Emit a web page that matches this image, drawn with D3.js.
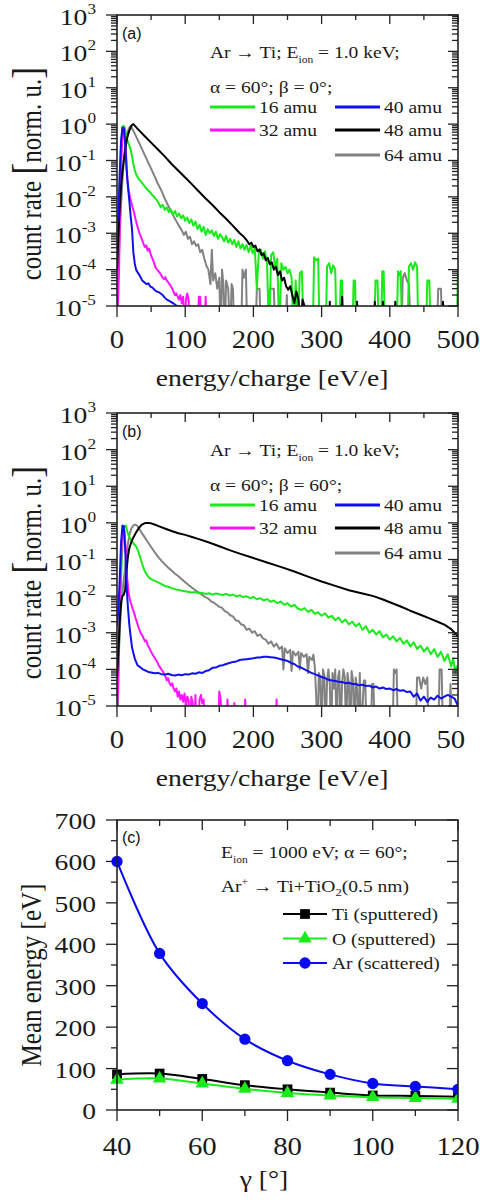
<!DOCTYPE html>
<html>
<head>
<meta charset="utf-8">
<script src="https://cdn.jsdelivr.net/npm/d3@7"></script>
<style>
  body { margin: 0; background: #fff; }
</style>
</head>
<body>
<div id="chart"></div>
<script>
// ---- data: [energy eV/e, normalised count rate], 0 = no counts ----
const specA16 = [[0,1e-4],[2,3e-3],[4,0.04],[6,0.3],[8,0.85],[10,0.9],[12,0.7],[14,0.45],[16,0.32],[18,0.26],[20,0.2],[22,0.13],[24,0.08],[26,0.055],[28,0.042],[31,0.033],[34,0.028],[37,0.024],[40,0.02],[43,0.017],[46,0.015],[49,0.013],[52,0.011],[55,0.0098],[58,0.0082],[61,0.0068],[64,0.0052],[67,0.0061],[70,0.0044],[73,0.0051],[76,0.0038],[79,0.0045],[82,0.0033],[85,0.0041],[88,0.0029],[91,0.0035],[94,0.0026],[97,0.0031],[100,0.0022],[103,0.0027],[106,0.0019],[109,0.0024],[112,0.0016],[115,0.0021],[118,0.0013],[121,0.0017],[124,0.0011],[127,0.0015],[130,0.0009],[133,0.0013],[136,0.001],[139,0.0012],[142,0.00085],[145,0.0011],[148,0.0007],[151,0.00095],[154,0.0008],[157,0.0006],[160,0.00085],[163,0.00055],[166,0.0007],[169,0.0005],[172,0.00065],[175,0.00042],[178,0.0006],[181,0.00038],[184,0.0005],[187,0.00035],[190,0.00048],[193,0.0003],[196,0.00045],[199,0.00028],[202,0.0004],[205,0.00003],[208,0.0003],[211,0.00035],[214,0.0002],[217,0.00032],[220,0.00015],[223,0],[226,0.00025],[229,0.0003],[232,0.00012],[235,0.0002],[238,0],[241,0.00015],[244,0.0001],[247,0.00012],[250,0.00008],[253,0.0001],[256,0.00006],[259,0],[262,0.00005],[265,0],[268,0.00008],[271,0.00009],[274,0],[287,0],[289,0.00022],[292,0.00018],[295,0.0002],[297,0],[306,0],[308,0.00012],[311,0.00015],[314,0.00008],[317,0.00013],[320,0.0001],[322,0],[326,0],[328,0.00005],[330,0.00005],[332,0],[345,0],[347,0.00005],[349,0.00005],[351,0],[377,0],[379,0.00005],[382,0.00005],[384,0],[387,0],[389,0.00009],[391,0.00009],[393,0],[410,0],[412,0.00009],[414,0.00007],[416,0.00009],[418,0],[426,0],[428,0.00012],[431,0.00015],[434,0.0001],[437,0.00016],[440,0.00012],[442,0],[453,0],[455,0.00005],[458,0.00005],[460,0],[498,0],[500,0.0001]];
const specA32 = [[0,0],[3,1e-4],[5,0.01],[7,0.2],[9,0.7],[11,0.8],[13,0.2],[15,0.03],[17,0.015],[19,0.01],[21,0.007],[23,0.005],[25,0.0037],[27,0.0025],[29,0.0018],[31,0.0013],[33,0.001],[35,0.0008],[37,0.00065],[39,0.0005],[41,0.00042],[43,0.00046],[45,0.00033],[47,0.00038],[49,0.00028],[51,0.00022],[53,0.00018],[55,0.00014],[57,0.00011],[59,0.0001],[61,0.00009],[63,0.00008],[65,0.00007],[67,0.00006],[69,0.000055],[71,0.000062],[73,0.00005],[75,0.000045],[77,0.00004],[79,0.000035],[81,0.00003],[83,0.000025],[85,0.00002],[87,0.000022],[89,0.000018],[91,0.000015],[93,0.00002],[95,0.000012],[97,0.000018],[99,0],[101,0.000015],[103,0.000022],[105,0.000015],[107,0],[118,0],[120,0.000018],[122,0.000018],[124,0],[128,0],[130,0.000018],[132,0]];
const specA40 = [[0,0.002],[2,0.003],[4,0.04],[6,0.35],[8,0.8],[10,0.75],[12,0.3],[14,0.06],[16,0.02],[18,0.008],[20,0.003],[22,0.0013],[24,0.0003],[26,0.00015],[28,0.0001],[31,0.00008],[34,0.000065],[37,0.00005],[40,0.000045],[43,0.00004],[46,0.000042],[49,0.000034],[52,0.000032],[55,0.000028],[58,0.000025],[61,0.000024],[64,0.000022],[67,0.00002],[70,0.000017],[73,0.000015],[76,0.000014],[79,0.000013],[82,0.000012],[85,0.000011],[88,0.00001],[92,0.00001],[95,0]];
const specA48 = [[0,0.0001],[2,0.0008],[4,0.005],[6,0.02],[8,0.05],[10,0.1],[12,0.2],[14,0.35],[16,0.5],[18,0.65],[20,0.8],[22,0.95],[24,1.0],[30,0.75],[40,0.48],[50,0.31],[60,0.2],[70,0.13],[80,0.08],[90,0.052],[100,0.034],[110,0.022],[120,0.014],[130,0.009],[140,0.006],[150,0.0038],[160,0.0025],[170,0.0016],[180,0.001],[186,0.0008],[190,0.00065],[194,0.0005],[197,0.00055],[200,0.00042],[203,0.00046],[206,0.00032],[209,0.00036],[212,0.00025],[215,0.00028],[218,0.00018],[221,0.00021],[224,0.00014],[227,0.00016],[230,0.0001],[233,0.00012],[236,0.00007],[239,0.00009],[242,0.00005],[245,0.00006],[248,0.000035],[251,0.000028],[254,0.000035],[257,0.00002],[260,0.000012],[263,0.000025],[266,0.000015],[269,0],[272,0.000015],[275,0.00001],[278,0],[311,0],[312,0.000013],[314,0],[329,0],[330,0.000018],[332,0],[351,0],[352,0.000013],[354,0],[377,0],[378,0.000013],[380,0],[389,0],[390,0.000013],[392,0],[407,0],[408,0.000013],[410,0],[477,0],[478,0.000013],[480,0]];
const specA64 = [[0,0.00001],[2,0.0001],[4,0.001],[6,0.006],[8,0.03],[10,0.1],[12,0.25],[14,0.45],[16,0.65],[18,0.8],[20,0.9],[25,0.6],[30,0.38],[35,0.24],[40,0.15],[45,0.095],[50,0.06],[55,0.037],[60,0.023],[65,0.015],[70,0.009],[75,0.0058],[80,0.0038],[85,0.0025],[90,0.0017],[95,0.0012],[98,0.0009],[101,0.0011],[104,0.0007],[107,0.0008],[110,0.0005],[113,0.0006],[116,0.00045],[119,0.0005],[122,0.0003],[125,0.00035],[128,0.0002],[131,0.00013],[134,0.0001],[137,0.00004],[139,0.00035],[141,0.00005],[144,0.00008],[147,0.00003],[150,0.00006],[152,0],[154,0.0001],[156,0.00004],[158,0],[160,0.00005],[163,0.00003],[166,0],[168,0.00004],[170,0.00003],[172,0],[182,0],[184,0.0001],[186,0.00006],[189,0.0001],[191,0],[203,0],[205,0.00003],[209,0.00003],[211,0],[222,0],[224,0.00003],[230,0.00003],[232,0],[247,0],[249,0.00002],[251,0],[417,0],[419,0.00006],[422,0.00008],[425,0.00005],[428,0.00004],[431,0],[469,0],[471,0.00003],[475,0.00003],[477,0]];

const specB16 = [[0,0],[3,0.0003],[5,0.01],[7,0.1],[9,0.5],[11,0.8],[13,0.85],[15,0.6],[17,0.45],[19,0.38],[21,0.33],[23,0.3],[25,0.26],[27,0.24],[29,0.21],[31,0.17],[33,0.13],[35,0.1],[37,0.075],[39,0.058],[41,0.047],[44,0.038],[47,0.032],[50,0.029],[54,0.027],[58,0.025],[62,0.023],[66,0.021],[70,0.019],[75,0.018],[80,0.0165],[85,0.0155],[90,0.0148],[95,0.014],[100,0.0135],[105,0.013],[110,0.0125],[115,0.013],[120,0.012],[125,0.0123],[130,0.0115],[135,0.012],[140,0.011],[145,0.0118],[150,0.0112],[155,0.0107],[160,0.0115],[165,0.0104],[170,0.011],[175,0.0098],[180,0.0105],[185,0.0094],[190,0.0099],[195,0.0088],[200,0.0095],[205,0.0082],[210,0.0088],[215,0.0076],[220,0.0083],[225,0.007],[230,0.0076],[235,0.0064],[240,0.0071],[245,0.0058],[250,0.0064],[255,0.0052],[260,0.0058],[265,0.0046],[270,0.0042],[275,0.0047],[280,0.0037],[285,0.0042],[290,0.0033],[295,0.0036],[300,0.0029],[305,0.0034],[310,0.0026],[315,0.0029],[320,0.0022],[325,0.0026],[330,0.0019],[335,0.0023],[340,0.0017],[345,0.002],[350,0.0015],[355,0.0018],[360,0.0012],[365,0.0015],[370,0.001],[375,0.0012],[380,0.0009],[385,0.0011],[390,0.00075],[395,0.0009],[400,0.00065],[405,0.0008],[410,0.00058],[415,0.00072],[420,0.0005],[425,0.00062],[430,0.00042],[435,0.00055],[440,0.00036],[445,0.00045],[450,0.00031],[455,0.0004],[460,0.00026],[465,0.00036],[470,0.00022],[475,0.0003],[480,0.00017],[485,0.00026],[490,0.00012],[493,0.0002],[496,0.00008],[498,0.00012],[500,0.00009]];
const specB32 = [[0,0],[3,0.0005],[5,0.02],[7,0.3],[9,0.75],[11,0.6],[13,0.15],[15,0.03],[17,0.012],[19,0.008],[21,0.006],[23,0.0045],[25,0.0035],[27,0.0026],[29,0.002],[31,0.0015],[33,0.0012],[35,0.00095],[37,0.00085],[39,0.0007],[41,0.00058],[43,0.00062],[45,0.00045],[47,0.0004],[49,0.00033],[51,0.00028],[53,0.00024],[55,0.00021],[57,0.00018],[59,0.00016],[61,0.00013],[63,0.000115],[65,0.0001],[67,0.00009],[69,0.000075],[71,0.000065],[73,0.00005],[75,0.000058],[77,0.000042],[79,0.000036],[81,0.000042],[83,0.00003],[85,0.000025],[87,0.00003],[89,0.000018],[91,0.000025],[93,0.000015],[95,0.00002],[97,0.000013],[99,0.000022],[101,0.00001],[103,0.000018],[105,0.000015],[107,0],[109,0.000018],[111,0.000012],[113,0],[115,0.00002],[117,0],[119,0],[121,0.000015],[123,0.00002],[125,0.000012],[127,0.000015],[129,0],[148,0],[150,0.000025],[152,0.000015],[154,0],[160,0],[162,0.000015],[164,0],[170,0],[172,0.000012],[174,0],[186,0],[188,0.000015],[190,0],[232,0],[234,0.000015],[236,0]];
const specB40 = [[0,0.0015],[2,0.004],[4,0.03],[6,0.3],[8,0.85],[10,0.8],[12,0.2],[14,0.02],[16,0.005],[18,0.0017],[20,0.0008],[22,0.0004],[24,0.00028],[26,0.0002],[28,0.00016],[30,0.00013],[34,0.000115],[38,0.0001],[42,0.000092],[46,0.000085],[50,0.000082],[55,0.000078],[60,0.00008],[65,0.000074],[70,0.000072],[75,0.000076],[80,0.00007],[85,0.000068],[90,0.000072],[95,0.000069],[100,0.000074],[105,0.000072],[110,0.000078],[115,0.000076],[120,0.000083],[125,0.00008],[130,0.00009],[135,0.000095],[140,0.00011],[145,0.000112],[150,0.000125],[155,0.00013],[160,0.00014],[165,0.00015],[170,0.00016],[175,0.000165],[180,0.00018],[185,0.000185],[190,0.00019],[195,0.000195],[200,0.0002],[205,0.00021],[210,0.00021],[215,0.00022],[220,0.00022],[225,0.000215],[230,0.00021],[235,0.0002],[240,0.00019],[245,0.00018],[250,0.00017],[255,0.00015],[260,0.00014],[265,0.00012],[270,0.000112],[275,0.0001],[280,0.00009],[285,0.00008],[290,0.000074],[295,0.000068],[300,0.000062],[305,0.000058],[310,0.000052],[315,0.00005],[320,0.000048],[325,0.000046],[330,0.000045],[335,0.000042],[340,0.000043],[345,0.00004],[350,0.00004],[355,0.000037],[360,0.000038],[365,0.000035],[370,0.000036],[375,0.000032],[380,0.000034],[385,0.00003],[390,0.000032],[395,0.000029],[400,0.00003],[405,0.000027],[410,0.000029],[415,0.000026],[420,0.000027],[425,0.000024],[430,0.000025],[435,0.000018],[440,0.000022],[445,0.000014],[450,0.000018],[455,0.000013],[460,0.000017],[465,0.000015],[470,0.000019],[475,0.000016],[480,0.000018],[485,0.00002],[490,0.000018],[495,0.000016],[500,0.00001]];
const specB48 = [[0,0.00006],[2,0.0003],[4,0.002],[6,0.007],[8,0.01],[10,0.011],[12,0.015],[14,0.05],[16,0.12],[18,0.2],[21,0.3],[24,0.4],[28,0.55],[32,0.72],[36,0.88],[40,0.97],[45,1.0],[50,0.97],[55,0.9],[60,0.83],[70,0.7],[80,0.6],[90,0.52],[100,0.47],[110,0.41],[120,0.36],[135,0.29],[150,0.23],[165,0.18],[180,0.145],[200,0.11],[220,0.083],[240,0.063],[260,0.047],[280,0.034],[300,0.025],[320,0.019],[340,0.0145],[360,0.0118],[376,0.01],[390,0.0081],[400,0.0068],[415,0.0053],[430,0.004],[445,0.0031],[460,0.0024],[470,0.002],[480,0.00166],[490,0.00126],[495,0.001],[500,0.0008]];
const specB64 = [[0,0.00003],[3,0.0005],[6,0.005],[9,0.02],[12,0.06],[15,0.2],[18,0.45],[21,0.7],[24,0.85],[27,0.9],[30,0.82],[35,0.58],[40,0.42],[45,0.3],[50,0.22],[55,0.16],[60,0.12],[65,0.093],[70,0.074],[75,0.06],[80,0.05],[85,0.041],[90,0.035],[95,0.029],[100,0.024],[105,0.02],[110,0.017],[115,0.0145],[120,0.0125],[125,0.0108],[130,0.0092],[134,0.0085],[138,0.0072],[142,0.0066],[146,0.0058],[150,0.0051],[154,0.0048],[158,0.0039],[162,0.0036],[166,0.003],[170,0.0028],[174,0.0022],[178,0.0021],[182,0.0017],[186,0.0016],[190,0.0012],[194,0.0013],[198,0.001],[202,0.0011],[206,0.00082],[210,0.0009],[214,0.0007],[218,0.00065],[222,0.0005],[226,0.00058],[230,0.00042],[234,0.0005],[238,0.00036],[242,0.00042],[244,0.0001],[246,0.00038],[250,0.00028],[254,0.00034],[256,0.00009],[258,0.00031],[262,0.00024],[266,0.0003],[268,0.0001],[270,0.00028],[274,0.00022],[278,0.00026],[280,0.00008],[282,0.00022],[286,0.00018],[288,0.00025],[290,0.00012],[292,0.00002],[294,0],[296,0.00008],[298,0.00006],[300,0],[302,0.0001],[304,0.00007],[306,0],[308,0.00005],[310,0.0001],[312,0.00004],[314,0],[316,0.00008],[318,0.00003],[320,0.0001],[322,0],[324,0.00006],[326,0.00009],[328,0],[330,0.00004],[332,0.0001],[334,0.00006],[336,0],[338,0.00008],[340,0.00004],[342,0],[344,0.00009],[346,0.00005],[348,0],[350,0.00006],[352,0.00003],[354,0],[356,0.00008],[358,0],[362,0.00005],[364,0.00005],[366,0],[372,0],[374,0.00004],[376,0.00004],[378,0],[404,0],[406,0.0001],[408,0.00008],[410,0.0001],[412,0],[438,0],[440,0.00006],[443,0.00006],[446,0.00003],[449,0.00006],[452,0.00004],[455,0.00006],[457,0],[471,0],[473,0.0001],[476,0.0001],[478,0],[487,0],[489,0.00004],[491,0]];

const massLabels = ['16 amu', '32 amu', '40 amu', '48 amu', '64 amu'];
const energyTicks = [0, 100, 200, 300, 400, 500];
const decadeExps = [3, 2, 1, 0, -1, -2, -3, -4, -5];

// panel (c): mean energies vs detection angle
const gammaDeg = [40, 50, 60, 70, 80, 90, 100, 110, 120];
const tiSputtered = [86, 88, 75, 60, 50, 42, 35, 34, 32];
const oSputtered = [73, 76, 64, 51, 41, 35, 31, 29, 27];
const arScattered = [600, 378, 257, 171, 119, 86, 64, 57, 50];
const gammaTicks = [40, 60, 80, 100, 120];
const meanTicks = [0, 100, 200, 300, 400, 500, 600, 700];

const colors = { m16: '#19ea19', m32: '#ff14ff', m40: '#1010ec', m48: '#000000', m64: '#828282' };
const serif = '"Liberation Serif","Times New Roman",serif';
const SX = 1.15; // reference glyphs are a bit stretched horizontally
const L = 117, R = 458;

var svg = d3.select('#chart').append('svg')
    .attr('width', 480)
    .attr('height', 1200);

function addText(g, x, y, size, anchor) {
    return g.append('text')
        .attr('transform', 'translate(' + x + ',' + y + ') scale(' + SX + ',1)')
        .attr('font-family', serif)
        .attr('font-size', size)
        .attr('text-anchor', anchor || 'start')
        .attr('fill', '#1a1a1a');
}

function tick(g, x1, y1, x2, y2) {
    g.append('line').attr('x1', x1).attr('y1', y1).attr('x2', x2).attr('y2', y2)
        .attr('stroke', '#222').attr('stroke-width', 1.3);
}

function spectrumPanel(id, top, bottom, tag, angleLine, series) {
    var x = d3.scaleLinear().domain([0, 500]).range([L, R]);
    var y = d3.scaleLog().domain([1e-5, 1e3]).range([bottom, top]);
    var g = svg.append('g');

    svg.append('clipPath').attr('id', 'clip' + id)
        .append('rect').attr('x', L).attr('y', top).attr('width', R - L).attr('height', bottom - top);

    var line = d3.line()
        .x(function (d) { return x(d[0]); })
        .y(function (d) { return d[1] > 0 ? y(d[1]) : bottom + 30; });

    var drawOrder = [4, 0, 1, 3, 2];
    var plot = g.append('g').attr('clip-path', 'url(#clip' + id + ')');
    drawOrder.forEach(function (i) {
        plot.append('path')
            .attr('d', line(series[i].data))
            .attr('fill', 'none')
            .attr('stroke', series[i].color)
            .attr('stroke-width', 2)
            .attr('stroke-linejoin', 'round');
    });

    // ticks: log minors from the scale itself
    y.ticks().forEach(function (v) {
        var major = Math.abs(Math.log10(v) - Math.round(Math.log10(v))) < 1e-9;
        var yy = y(v);
        tick(g, L, yy, L - (major ? 11 : 6), yy);
        tick(g, R, yy, R - (major ? 10 : 6), yy);
    });
    x.ticks(10).forEach(function (v) {
        var major = v % 100 === 0;
        var xx = x(v);
        tick(g, xx, top, xx, top + (major ? 9 : 5));
        tick(g, xx, bottom, xx, bottom + (major ? 11 : 6));
    });

    g.append('rect').attr('x', L).attr('y', top).attr('width', R - L).attr('height', bottom - top)
        .attr('fill', 'none').attr('stroke', '#222').attr('stroke-width', 1.6);

    // y tick labels 10^n
    decadeExps.forEach(function (e) {
        var t = addText(g, 96, y(Math.pow(10, e)) + 10, 24, 'end');
        t.append('tspan').text('10');
        t.append('tspan').attr('font-size', 15).attr('dy', -11).text(e);
    });

    // x tick labels (panel b is cut at the right edge in the reference)
    svg.append('clipPath').attr('id', 'lab' + id)
        .append('rect').attr('x', 0).attr('y', bottom).attr('width', id === 'b' ? 466 : 480).attr('height', 60);
    var xl = g.append('g').attr('clip-path', 'url(#lab' + id + ')');
    energyTicks.forEach(function (v) {
        addText(xl, x(v), bottom + 42, 25, 'middle').text(v);
    });

    addText(g, 272, bottom + 80, 24, 'middle').text('energy/charge [eV/e]');

    var yl = g.append('text')
        .attr('transform', 'translate(41,' + ((top + bottom) / 2 + 13) + ') scale(' + SX + ',1) rotate(-90)')
        .attr('font-family', serif).attr('font-size', 25).attr('text-anchor', 'middle').attr('fill', '#1a1a1a');
    yl.append('tspan').text('count rate ');
    yl.append('tspan').attr('font-size', 36).text('[');
    yl.append('tspan').text('norm. u.');
    yl.append('tspan').attr('font-size', 36).text(']');

    g.append('text').attr('x', 122).attr('y', top + 24)
        .attr('font-family', '"Liberation Sans",Arial,sans-serif').attr('font-size', 16)
        .attr('fill', '#111').text(tag);

    // annotation
    var a1 = addText(g, 210, top + 43, 17);
    a1.append('tspan').text('Ar \u2192 Ti; E');
    a1.append('tspan').attr('font-size', 10).attr('dy', 5).text('ion');
    a1.append('tspan').attr('dy', -5).text(' = 1.0 keV;');
    addText(g, 210, top + 78, 17).text(angleLine);

    // legend: two columns
    var slots = [[210, top + 92], [210, top + 115], [335, top + 92], [335, top + 115], [335, top + 140]];
    series.forEach(function (s, i) {
        var p = slots[i];
        g.append('line').attr('x1', p[0]).attr('x2', p[0] + 45).attr('y1', p[1]).attr('y2', p[1])
            .attr('stroke', s.color).attr('stroke-width', 3);
        addText(g, p[0] + 49, p[1] + 6, 17).text(s.name);
    });
}

spectrumPanel('a', 15, 306, '(a)', '\u03b1 = 60\u00b0; \u03b2 = 0\u00b0;', [
    { name: massLabels[0], color: colors.m16, data: specA16 },
    { name: massLabels[1], color: colors.m32, data: specA32 },
    { name: massLabels[2], color: colors.m40, data: specA40 },
    { name: massLabels[3], color: colors.m48, data: specA48 },
    { name: massLabels[4], color: colors.m64, data: specA64 }
]);

spectrumPanel('b', 413, 706, '(b)', '\u03b1 = 60\u00b0; \u03b2 = 60\u00b0;', [
    { name: massLabels[0], color: colors.m16, data: specB16 },
    { name: massLabels[1], color: colors.m32, data: specB32 },
    { name: massLabels[2], color: colors.m40, data: specB40 },
    { name: massLabels[3], color: colors.m48, data: specB48 },
    { name: massLabels[4], color: colors.m64, data: specB64 }
]);

// ---- panel (c) ----
(function () {
    var top = 820, bottom = 1110;
    var x = d3.scaleLinear().domain([40, 120]).range([L, R]);
    var y = d3.scaleLinear().domain([0, 700]).range([bottom, top]);
    var g = svg.append('g');

    y.ticks(14).forEach(function (v) {
        var major = v % 100 === 0;
        tick(g, L, y(v), L - (major ? 11 : 6), y(v));
        tick(g, R, y(v), R - (major ? 11 : 6), y(v));
    });
    x.ticks(8).forEach(function (v) {
        var major = v % 20 === 0;
        tick(g, x(v), top, x(v), top + (major ? 10 : 6));
        tick(g, x(v), bottom, x(v), bottom + (major ? 11 : 6));
    });

    var series = [
        { name: 'Ti (sputtered)', color: '#000000', vals: tiSputtered, sym: d3.symbolSquare, size: 95 },
        { name: 'O (sputtered)', color: '#19ea19', vals: oSputtered, sym: d3.symbolTriangle, size: 80 },
        { name: 'Ar (scattered)', color: '#0a0af0', vals: arScattered, sym: d3.symbolCircle, size: 100 }
    ];
    var line = d3.line()
        .x(function (d) { return x(d[0]); })
        .y(function (d) { return y(d[1]); })
        .curve(d3.curveCatmullRom);

    svg.append('clipPath').attr('id', 'clipc')
        .append('rect').attr('x', L - 8).attr('y', top - 8).attr('width', R - L + 8).attr('height', bottom - top + 8);
    var plot = g.append('g').attr('clip-path', 'url(#clipc)');

    series.forEach(function (s) {
        var pts = gammaDeg.map(function (gd, i) { return [gd, s.vals[i]]; });
        plot.append('path').attr('d', line(pts)).attr('fill', 'none')
            .attr('stroke', s.color).attr('stroke-width', 2);
        plot.selectAll(null).data(pts).enter().append('path')
            .attr('d', d3.symbol().type(s.sym).size(s.size))
            .attr('transform', function (d) { return 'translate(' + x(d[0]) + ',' + y(d[1]) + ')'; })
            .attr('fill', s.color);
    });

    g.append('rect').attr('x', L).attr('y', top).attr('width', R - L).attr('height', bottom - top)
        .attr('fill', 'none').attr('stroke', '#222').attr('stroke-width', 1.6);

    meanTicks.forEach(function (v) {
        addText(g, 96, y(v) + 9, 24, 'end').text(v);
    });
    gammaTicks.forEach(function (v) {
        addText(g, x(v), bottom + 45, 25, 'middle').text(v);
    });
    addText(g, 264, bottom + 77, 24, 'middle').text('\u03b3 [\u00b0]');

    g.append('text')
        .attr('transform', 'translate(41,' + ((top + bottom) / 2 + 10) + ') scale(' + SX + ',1) rotate(-90)')
        .attr('font-family', serif).attr('font-size', 25).attr('text-anchor', 'middle').attr('fill', '#1a1a1a')
        .text('Mean energy [eV]');

    g.append('text').attr('x', 122).attr('y', top + 23)
        .attr('font-family', '"Liberation Sans",Arial,sans-serif').attr('font-size', 16)
        .attr('fill', '#111').text('(c)');

    var t1 = addText(g, 221, top + 38, 17);
    t1.append('tspan').text('E');
    t1.append('tspan').attr('font-size', 10).attr('dy', 5).text('ion');
    t1.append('tspan').attr('dy', -5).text(' = 1000 eV; \u03b1 = 60\u00b0;');
    var t2 = addText(g, 221, top + 72, 17);
    t2.append('tspan').text('Ar');
    t2.append('tspan').attr('font-size', 10).attr('dy', -7).text('+');
    t2.append('tspan').attr('dy', 7).text(' \u2192 Ti+TiO');
    t2.append('tspan').attr('font-size', 11).attr('dy', 4).text('2');
    t2.append('tspan').attr('dy', -4).text('(0.5 nm)');

    series.forEach(function (s, i) {
        var ly = top + 94 + i * 24.5;
        g.append('line').attr('x1', 283).attr('x2', 327).attr('y1', ly).attr('y2', ly)
            .attr('stroke', s.color).attr('stroke-width', 2);
        g.append('path').attr('d', d3.symbol().type(s.sym).size(s.size))
            .attr('transform', 'translate(305,' + ly + ')').attr('fill', s.color);
        addText(g, 332, ly + 6, 17).text(s.name);
    });
})();
</script>
</body>
</html>
